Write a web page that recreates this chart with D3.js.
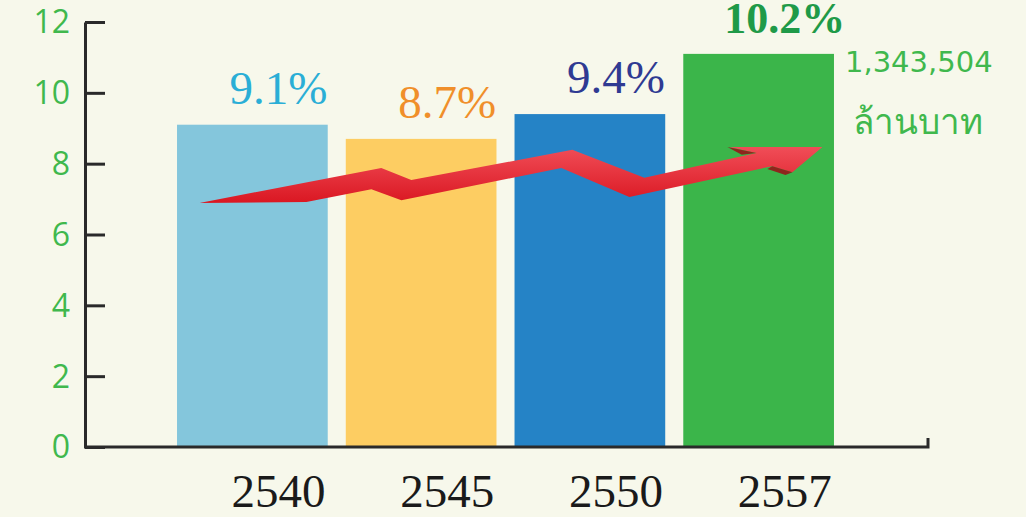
<!DOCTYPE html>
<html>
<head>
<meta charset="utf-8">
<script src="https://cdn.jsdelivr.net/npm/d3@7"></script>
<style>
  html, body { margin: 0; padding: 0; background: #f7f8eb; }
  svg { display: block; }
</style>
</head>
<body>
<svg id="chart" width="1026" height="517"></svg>
<script>
// ---- data ----
const years = ["2540", "2545", "2550", "2557"];
const barValues = [9.1, 8.7, 9.4, 11.1];
const pctLabels = ["9.1%", "8.7%", "9.4%", "10.2%"];
const yTicks = [0, 2, 4, 6, 8, 10, 12];
const noteLines = ["1,343,504", "ล้านบาท"];
// trend arrow outline: [category index, value]
const arrowIdx = [-0.314, 0.764, 0.942, 1.896, 2.323, 2.987, 2.827, 3.378, 3.200, 3.081, 2.234, 1.831, 0.883, 0.705, 0.320];
const arrowVal = [6.89, 7.88, 7.54, 8.39, 7.60, 8.30, 8.47, 8.47, 7.76, 7.93, 7.06, 7.88, 6.97, 7.28, 6.92];
const shadeIdx = [[2.815, 2.987, 2.90], [3.081, 3.200, 3.159, 3.052]];
const shadeVal = [[8.47, 8.30, 8.25], [7.93, 7.76, 7.68, 7.85]];

// ---- styles ----
const barColors = ["#84c6dc", "#fdcd62", "#2583c6", "#3bb54a"];
const pctColors = ["#2aaed6", "#f08f2a", "#2f3a92", "#1f9a48"];
const green = "#40b84d";

const svg = d3.select("#chart");
svg.append("rect").attr("width", 1026).attr("height", 517).attr("fill", "#f7f8eb");

const y = d3.scaleLinear().domain([0, 12]).range([447, 22]);
const x = d3.scaleBand().domain(years).range([168, 843]).paddingInner(0.107).paddingOuter(0.0535);
const bw = x.bandwidth();
const xi = d3.scaleLinear().domain([0, 3]).range([x(years[0]) + bw / 2, x(years[3]) + bw / 2]);

// bars
svg.append("g").selectAll("rect").data(barValues).join("rect")
  .attr("x", (d, i) => x(years[i]))
  .attr("y", d => y(d))
  .attr("width", bw)
  .attr("height", d => y(0) - y(d))
  .attr("fill", (d, i) => barColors[i]);

// arrow
const defs = svg.append("defs");
const grad = defs.append("linearGradient").attr("id", "arrowGrad")
  .attr("gradientUnits", "userSpaceOnUse").attr("x1", 0).attr("y1", y(8.6)).attr("x2", 0).attr("y2", y(6.8));
grad.append("stop").attr("offset", "0%").attr("stop-color", "#f2525c");
grad.append("stop").attr("offset", "100%").attr("stop-color", "#d9141f");

const arrowPts = arrowIdx.map((d, i) => [xi(d), y(arrowVal[i])]);
svg.append("path")
  .attr("d", d3.line()(arrowPts) + "Z")
  .attr("fill", "url(#arrowGrad)");
svg.append("g").selectAll("path").data(shadeIdx).join("path")
  .attr("d", (d, k) => d3.line()(d.map((v, i) => [xi(v), y(shadeVal[k][i])])) + "Z")
  .attr("fill", "#9e0d15").attr("opacity", 0.85);

// y axis
const yAxis = d3.axisLeft(y).tickValues(yTicks).tickSizeInner(-20).tickSizeOuter(0).tickPadding(15);
const gy = svg.append("g").attr("transform", "translate(85,0)").call(yAxis);
gy.select(".domain").attr("stroke", "#2a2a2a").attr("stroke-width", 3);
gy.selectAll(".tick line").attr("stroke", "#2a2a2a").attr("stroke-width", 3);
gy.selectAll(".tick text")
  .attr("fill", green)
  .attr("font-family", "'Open Sans', 'Noto Sans', sans-serif")
  .attr("font-weight", 400)
  .attr("font-size", 32)
  .attr("dy", "0.34em");

// x baseline
svg.append("path")
  .attr("d", d3.line()([[84, y(0)], [928, y(0)], [928, y(0) - 9]]))
  .attr("fill", "none").attr("stroke", "#2a2a2a").attr("stroke-width", 3);

// year labels
svg.append("g").selectAll("text").data(years).join("text")
  .attr("x", d => x(d) + bw / 2 + 26)
  .attr("y", 507)
  .attr("text-anchor", "middle")
  .attr("font-family", "'Liberation Serif', 'DejaVu Serif', serif")
  .attr("font-size", 47)
  .attr("fill", "#1a1a1a")
  .text(d => d);

// percent labels
svg.append("g").selectAll("text").data(pctLabels).join("text")
  .attr("x", (d, i) => x(years[i]) + bw / 2 + 26)
  .attr("y", (d, i) => y(barValues[i]) - 21)
  .attr("text-anchor", "middle")
  .attr("font-family", "'Liberation Serif', 'DejaVu Serif', serif")
  .attr("font-size", (d, i) => i === 3 ? 44 : 47)
  .attr("font-weight", (d, i) => i === 3 ? "bold" : "normal")
  .attr("fill", (d, i) => pctColors[i])
  .text(d => d);

// note
svg.append("g").selectAll("text").data(noteLines).join("text")
  .attr("x", (d, i) => i === 0 ? 845 : 853)
  .attr("y", (d, i) => i === 0 ? 72 : 134)
  .attr("font-family", "'DejaVu Sans', 'Noto Sans', sans-serif")
  .attr("font-size", (d, i) => i === 0 ? 29 : 35)
  .attr("fill", green)
  .text(d => d);
</script>
</body>
</html>
